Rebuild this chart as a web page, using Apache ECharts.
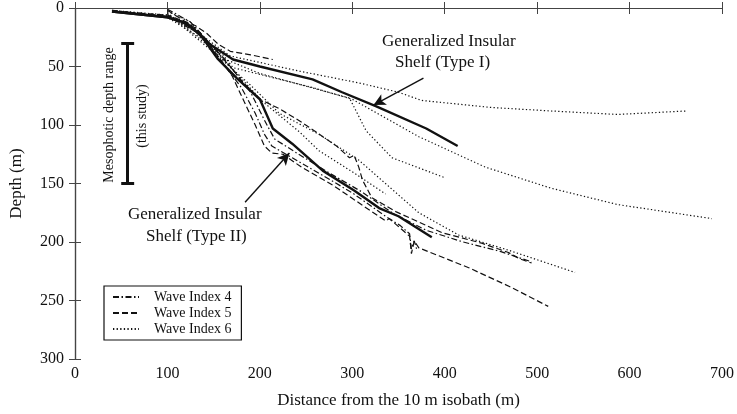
<!DOCTYPE html>
<html>
<head>
<meta charset="utf-8">
<script src="https://cdn.jsdelivr.net/npm/echarts@6/dist/echarts.min.js"></script>
<style>
  html, body { margin: 0; padding: 0; background: #fff; }
  #chart { width: 737px; height: 414px; }
</style>
</head>
<body>
<div id="chart"></div>
<script>
var xTicks = [0, 100, 200, 300, 400, 500, 600, 700];
var yTicks = [0, 50, 100, 150, 200, 250, 300];

// generalized profiles (solid)
var typeI = [[40, 3], [100, 8], [121, 13], [146, 31], [171, 44], [200, 50], [257, 61], [289, 72], [326, 84], [380, 103], [414, 118]];
var typeII = [[40, 3], [100, 8], [117, 12], [135, 22], [154, 43], [175, 60], [200, 78], [214, 103], [235, 116], [268, 139], [302, 156], [329, 171], [350, 178], [386, 196]];

// wave index 4 (dash-dot)
var wave4a = [[40, 2], [100, 7], [135, 22], [158, 45], [180, 68], [195, 90], [205, 108], [213, 118], [235, 128], [270, 144], [300, 158], [336, 178], [352, 186], [362, 193], [364, 206], [367, 199], [370, 207]];
var wave4b = [[100, 1], [125, 12], [150, 34], [170, 52], [190, 72], [205, 96], [216, 112], [240, 124], [275, 141], [310, 157], [345, 176], [380, 190], [420, 200], [460, 208], [494, 217]];

// wave index 5 (dashed)
var wave5a = [[40, 3], [100, 6], [130, 15], [143, 22], [155, 31], [168, 37], [190, 40], [214, 44]];
var wave5b = [[100, 2], [130, 17], [160, 42], [180, 62], [200, 78], [221, 86], [246, 98], [283, 118], [297, 128], [302, 126], [307, 136], [311, 147], [321, 162], [347, 174], [397, 192], [440, 201], [469, 209], [480, 214], [494, 218]];
var wave5c = [[40, 3], [100, 7], [130, 18], [150, 36], [170, 58], [183, 80], [195, 100], [205, 118], [213, 124], [225, 125], [245, 136], [280, 152], [336, 182], [340, 180], [362, 195], [364, 210], [367, 199], [372, 205], [426, 222], [470, 238], [512, 255]];

// wave index 6 (dotted)
var wave6a = [[40, 2], [100, 6], [140, 25], [168, 41], [243, 54], [307, 64], [350, 72], [375, 79], [450, 85], [515, 88], [587, 91], [662, 88]];
var wave6b = [[40, 3], [100, 8], [135, 25], [160, 40], [171, 51], [257, 68], [300, 78], [372, 110], [444, 136], [515, 154], [587, 168], [689, 180]];
var wave6c = [[100, 3], [125, 12], [160, 43], [200, 56], [260, 69], [297, 77], [315, 105], [343, 128], [400, 145]];
var wave6d = [[100, 4], [150, 36], [175, 56], [203, 80], [243, 106], [264, 122], [300, 140], [336, 159]];
var wave6e = [[100, 5], [150, 38], [190, 66], [221, 90], [264, 108], [307, 130], [372, 175], [415, 194], [469, 207], [541, 226]];

// annotation geometry, data units
var mesoRange = [30, 150];
var mesoX = 57;
var arrowI = [[377, 60], [323, 83]];
var arrowII = [[184, 166], [232, 124]];

var serif = '"Liberation Serif", "DejaVu Serif", serif';
var ink = '#111';
var dotted = [1.3, 2.3];
var dashed = [6, 3];
var dashDot = [6, 2.5, 1.5, 2.5];

function lineSeries(name, data, dash, width) {
    return {
        name: name,
        type: 'line',
        data: data,
        symbol: 'none',
        silent: true,
        animation: false,
        lineStyle: { color: ink, width: width || 1.2, type: dash },
        itemStyle: { color: ink },
        z: width ? 4 : 3
    };
}

var chart = echarts.init(document.getElementById('chart'), null, { renderer: 'canvas' });

var series = [
    lineSeries('Wave Index 4', wave4a, dashDot),
    lineSeries('Wave Index 4', wave4b, dashDot),
    lineSeries('Wave Index 5', wave5a, dashed),
    lineSeries('Wave Index 5', wave5b, dashed),
    lineSeries('Wave Index 5', wave5c, dashed),
    lineSeries('Wave Index 6', wave6a, dotted),
    lineSeries('Wave Index 6', wave6b, dotted),
    lineSeries('Wave Index 6', wave6c, dotted),
    lineSeries('Wave Index 6', wave6d, dotted),
    lineSeries('Wave Index 6', wave6e, dotted),
    lineSeries('Type I', typeI, 'solid', 2.4),
    lineSeries('Type II', typeII, 'solid', 2.4),
    {
        name: 'annotations',
        type: 'line',
        data: [],
        silent: true,
        animation: false,
        markLine: {
            silent: true,
            animation: false,
            label: { show: false },
            symbol: ['none', 'arrow'],
            symbolSize: [9, 12],
            lineStyle: { color: ink, width: 1.4, type: 'solid' },
            data: [
                [{ coord: arrowI[0] }, { coord: arrowI[1] }],
                [{ coord: arrowII[0] }, { coord: arrowII[1] }]
            ]
        }
    },
    {
        name: 'meso',
        type: 'line',
        data: [],
        silent: true,
        animation: false,
        markLine: {
            silent: true,
            animation: false,
            label: { show: false },
            symbol: ['none', 'none'],
            lineStyle: { color: ink, width: 3, type: 'solid' },
            data: [
                [{ coord: [mesoX, mesoRange[0]] }, { coord: [mesoX, mesoRange[1]] }],
                [{ coord: [mesoX - 7, mesoRange[0]] }, { coord: [mesoX + 7, mesoRange[0]] }],
                [{ coord: [mesoX - 7, mesoRange[1]] }, { coord: [mesoX + 7, mesoRange[1]] }]
            ]
        }
    }
];

var axisLine = { show: true, lineStyle: { color: '#444', width: 1.2 } };
var tickIn = { show: true, inside: true, length: 6, lineStyle: { color: '#444' } };

var option = {
    backgroundColor: '#fff',
    animation: false,
    grid: { left: 74, right: 12, top: 7, bottom: 53, containLabel: false },
    legend: {
        data: ['Wave Index 4', 'Wave Index 5', 'Wave Index 6'],
        orient: 'vertical',
        left: 104,
        top: 286,
        itemWidth: 26,
        itemHeight: 8,
        itemGap: 2,
        padding: [4, 10, 4, 8],
        borderColor: '#111',
        borderWidth: 1.2,
        borderRadius: 0,
        backgroundColor: '#fff',
        selectedMode: false,
        itemStyle: { opacity: 0 },
        textStyle: { fontFamily: serif, fontSize: 14, color: ink, padding: [0, 0, 0, 10] }
    },
    xAxis: [{
        type: 'value',
        min: 0,
        max: 700,
        interval: 100,
        position: 'bottom',
        name: 'Distance from the 10 m isobath (m)',
        nameLocation: 'middle',
        nameGap: 33,
        nameTextStyle: { fontFamily: serif, fontSize: 17, color: ink },
        axisLine: axisLine,
        axisTick: tickIn,
        splitLine: { show: false },
        axisLabel: { fontFamily: serif, fontSize: 16, color: ink, margin: 7 }
    }, {
        type: 'value',
        min: 0,
        max: 700,
        interval: 100,
        position: 'top',
        axisLine: axisLine,
        axisTick: tickIn,
        splitLine: { show: false },
        axisLabel: { show: false }
    }],
    yAxis: [{
        type: 'value',
        inverse: true,
        min: 0,
        max: 300,
        interval: 50,
        position: 'left',
        name: 'Depth (m)',
        nameLocation: 'middle',
        nameGap: 50,
        nameRotate: 90,
        nameTextStyle: { fontFamily: serif, fontSize: 17, color: ink },
        axisLine: axisLine,
        axisTick: tickIn,
        splitLine: { show: false },
        axisLabel: { fontFamily: serif, fontSize: 16, color: ink, margin: 11 }
    }, {
        type: 'value',
        inverse: true,
        min: 0,
        max: 300,
        interval: 50,
        position: 'right',
        axisLine: axisLine,
        axisTick: tickIn,
        splitLine: { show: false },
        axisLabel: { show: false }
    }],
    graphic: [
        { type: 'text', left: 382, top: 33, silent: true,
          style: { text: 'Generalized Insular', font: '17px ' + serif, fill: ink } },
        { type: 'text', left: 395, top: 54, silent: true,
          style: { text: 'Shelf (Type I)', font: '17px ' + serif, fill: ink } },
        { type: 'text', left: 128, top: 206, silent: true,
          style: { text: 'Generalized Insular', font: '17px ' + serif, fill: ink } },
        { type: 'text', left: 146, top: 228, silent: true,
          style: { text: 'Shelf (Type II)', font: '17px ' + serif, fill: ink } },
        { type: 'text', x: 109, y: 115, rotation: Math.PI / 2, silent: true,
          style: { text: 'Mesophotic depth range', font: '14px ' + serif, fill: ink,
                   align: 'center', verticalAlign: 'middle' } },
        { type: 'text', x: 142, y: 116, rotation: Math.PI / 2, silent: true,
          style: { text: '(this study)', font: '14px ' + serif, fill: ink,
                   align: 'center', verticalAlign: 'middle' } }
    ],
    series: series
};

chart.setOption(option);
</script>
</body>
</html>
